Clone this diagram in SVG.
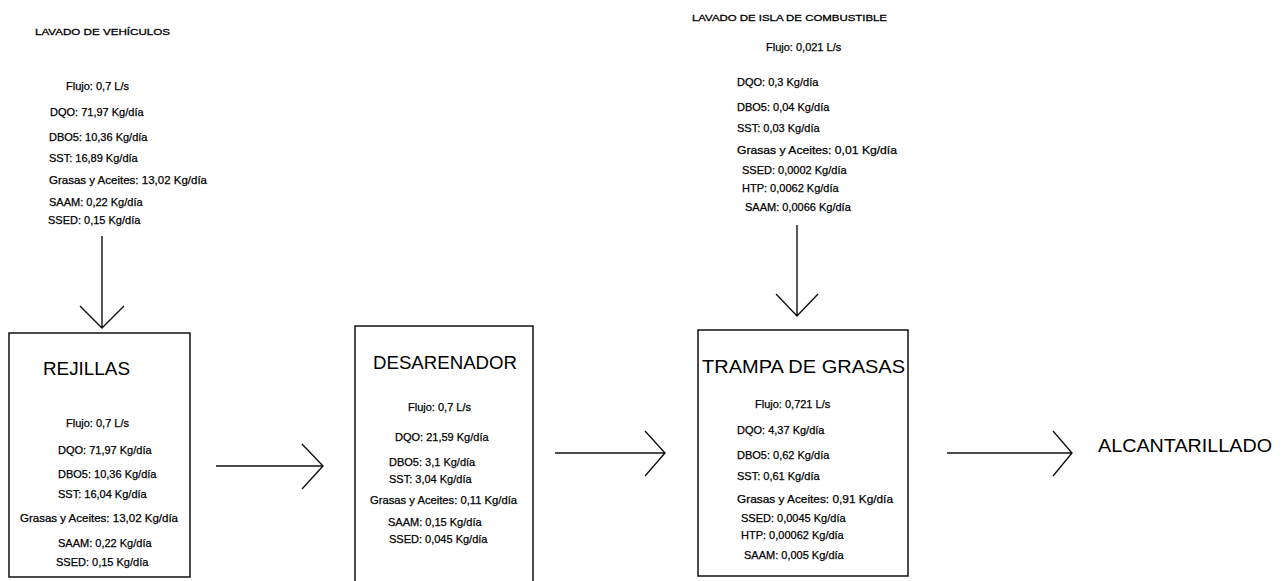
<svg xmlns="http://www.w3.org/2000/svg" width="1287" height="581" viewBox="0 0 1287 581">
<style>
text{font-family:"Liberation Sans",Arial,sans-serif;fill:#000}
.s{font-size:11px;stroke:#000;stroke-width:0.25}
.h{font-size:9.5px;stroke:#000;stroke-width:0.3}
.t{font-size:18.5px}
.box{fill:none;stroke:#111;stroke-width:1.5}
.ln{fill:none;stroke:#111;stroke-width:1.4}
</style>
<rect width="1287" height="581" fill="#fff"/>
<g id="src-vehiculos">
<text class="h" x="35" y="35" textLength="135" lengthAdjust="spacingAndGlyphs">LAVADO DE VEHÍCULOS</text>
<text class="s" x="66" y="90">Flujo: 0,7 L/s</text>
<text class="s" x="50" y="116">DQO: 71,97 Kg/día</text>
<text class="s" x="49" y="141">DBO5: 10,36 Kg/día</text>
<text class="s" x="49" y="162">SST: 16,89 Kg/día</text>
<text class="s" x="49" y="184" textLength="158" lengthAdjust="spacingAndGlyphs">Grasas y Aceites: 13,02 Kg/día</text>
<text class="s" x="49" y="206">SAAM: 0,22 Kg/día</text>
<text class="s" x="48" y="224">SSED: 0,15 Kg/día</text>
</g>
<g id="src-isla">
<text class="h" x="692" y="21" textLength="195" lengthAdjust="spacingAndGlyphs">LAVADO DE ISLA DE COMBUSTIBLE</text>
<text class="s" x="766" y="51">Flujo: 0,021 L/s</text>
<text class="s" x="737" y="86">DQO: 0,3 Kg/día</text>
<text class="s" x="737" y="111">DBO5: 0,04 Kg/día</text>
<text class="s" x="737" y="132">SST: 0,03 Kg/día</text>
<text class="s" x="737" y="154" textLength="160" lengthAdjust="spacingAndGlyphs">Grasas y Aceites: 0,01 Kg/día</text>
<text class="s" x="742" y="174">SSED: 0,0002 Kg/día</text>
<text class="s" x="742" y="192">HTP: 0,0062 Kg/día</text>
<text class="s" x="745" y="211">SAAM: 0,0066 Kg/día</text>
</g>
<g id="rejillas">
<rect class="box" x="9" y="333" width="181" height="244"/>
<text class="t" x="43" y="375" textLength="87" lengthAdjust="spacingAndGlyphs">REJILLAS</text>
<text class="s" x="66" y="427">Flujo: 0,7 L/s</text>
<text class="s" x="58" y="454">DQO: 71,97 Kg/día</text>
<text class="s" x="58" y="478">DBO5: 10,36 Kg/día</text>
<text class="s" x="58" y="498">SST: 16,04 Kg/día</text>
<text class="s" x="20" y="522" textLength="158" lengthAdjust="spacingAndGlyphs">Grasas y Aceites: 13,02 Kg/día</text>
<text class="s" x="58" y="547">SAAM: 0,22 Kg/día</text>
<text class="s" x="56" y="566">SSED: 0,15 Kg/día</text>
</g>
<g id="desarenador">
<path class="box" d="M355,590 V326 H533 V590"/>
<text class="t" x="373" y="369" textLength="144" lengthAdjust="spacingAndGlyphs">DESARENADOR</text>
<text class="s" x="408" y="411">Flujo: 0,7 L/s</text>
<text class="s" x="395" y="441">DQO: 21,59 Kg/día</text>
<text class="s" x="389" y="466">DBO5: 3,1 Kg/día</text>
<text class="s" x="389" y="483">SST: 3,04 Kg/día</text>
<text class="s" x="370" y="504" textLength="147" lengthAdjust="spacingAndGlyphs">Grasas y Aceites: 0,11 Kg/día</text>
<text class="s" x="388" y="526">SAAM: 0,15 Kg/día</text>
<text class="s" x="389" y="543">SSED: 0,045 Kg/día</text>
</g>
<g id="trampa">
<rect class="box" x="698" y="330" width="210" height="246"/>
<text class="t" x="702" y="373" textLength="203" lengthAdjust="spacingAndGlyphs">TRAMPA DE GRASAS</text>
<text class="s" x="755" y="408">Flujo: 0,721 L/s</text>
<text class="s" x="737" y="434">DQO: 4,37 Kg/día</text>
<text class="s" x="737" y="459">DBO5: 0,62 Kg/día</text>
<text class="s" x="737" y="480">SST: 0,61 Kg/día</text>
<text class="s" x="737" y="503" textLength="156" lengthAdjust="spacingAndGlyphs">Grasas y Aceites: 0,91 Kg/día</text>
<text class="s" x="741" y="522">SSED: 0,0045 Kg/día</text>
<text class="s" x="741" y="539">HTP: 0,00062 Kg/día</text>
<text class="s" x="744" y="559">SAAM: 0,005 Kg/día</text>
</g>
<g id="alcantarillado">
<text class="t" x="1098" y="452" textLength="174" lengthAdjust="spacingAndGlyphs">ALCANTARILLADO</text>
</g>
<g id="connectors">
<path class="ln" d="M102,236 V328 M80,306 L102,328 L124,306"/>
<path class="ln" d="M797,225 V316 M776,294 L797,316 L818,294"/>
<path class="ln" d="M216,466 H323 M302,444 L323,466 L302,489"/>
<path class="ln" d="M555,453 H665 M645,431 L665,453 L645,476"/>
<path class="ln" d="M947,453 H1072 M1053,431 L1072,453 L1053,476"/>
</g>
</svg>
